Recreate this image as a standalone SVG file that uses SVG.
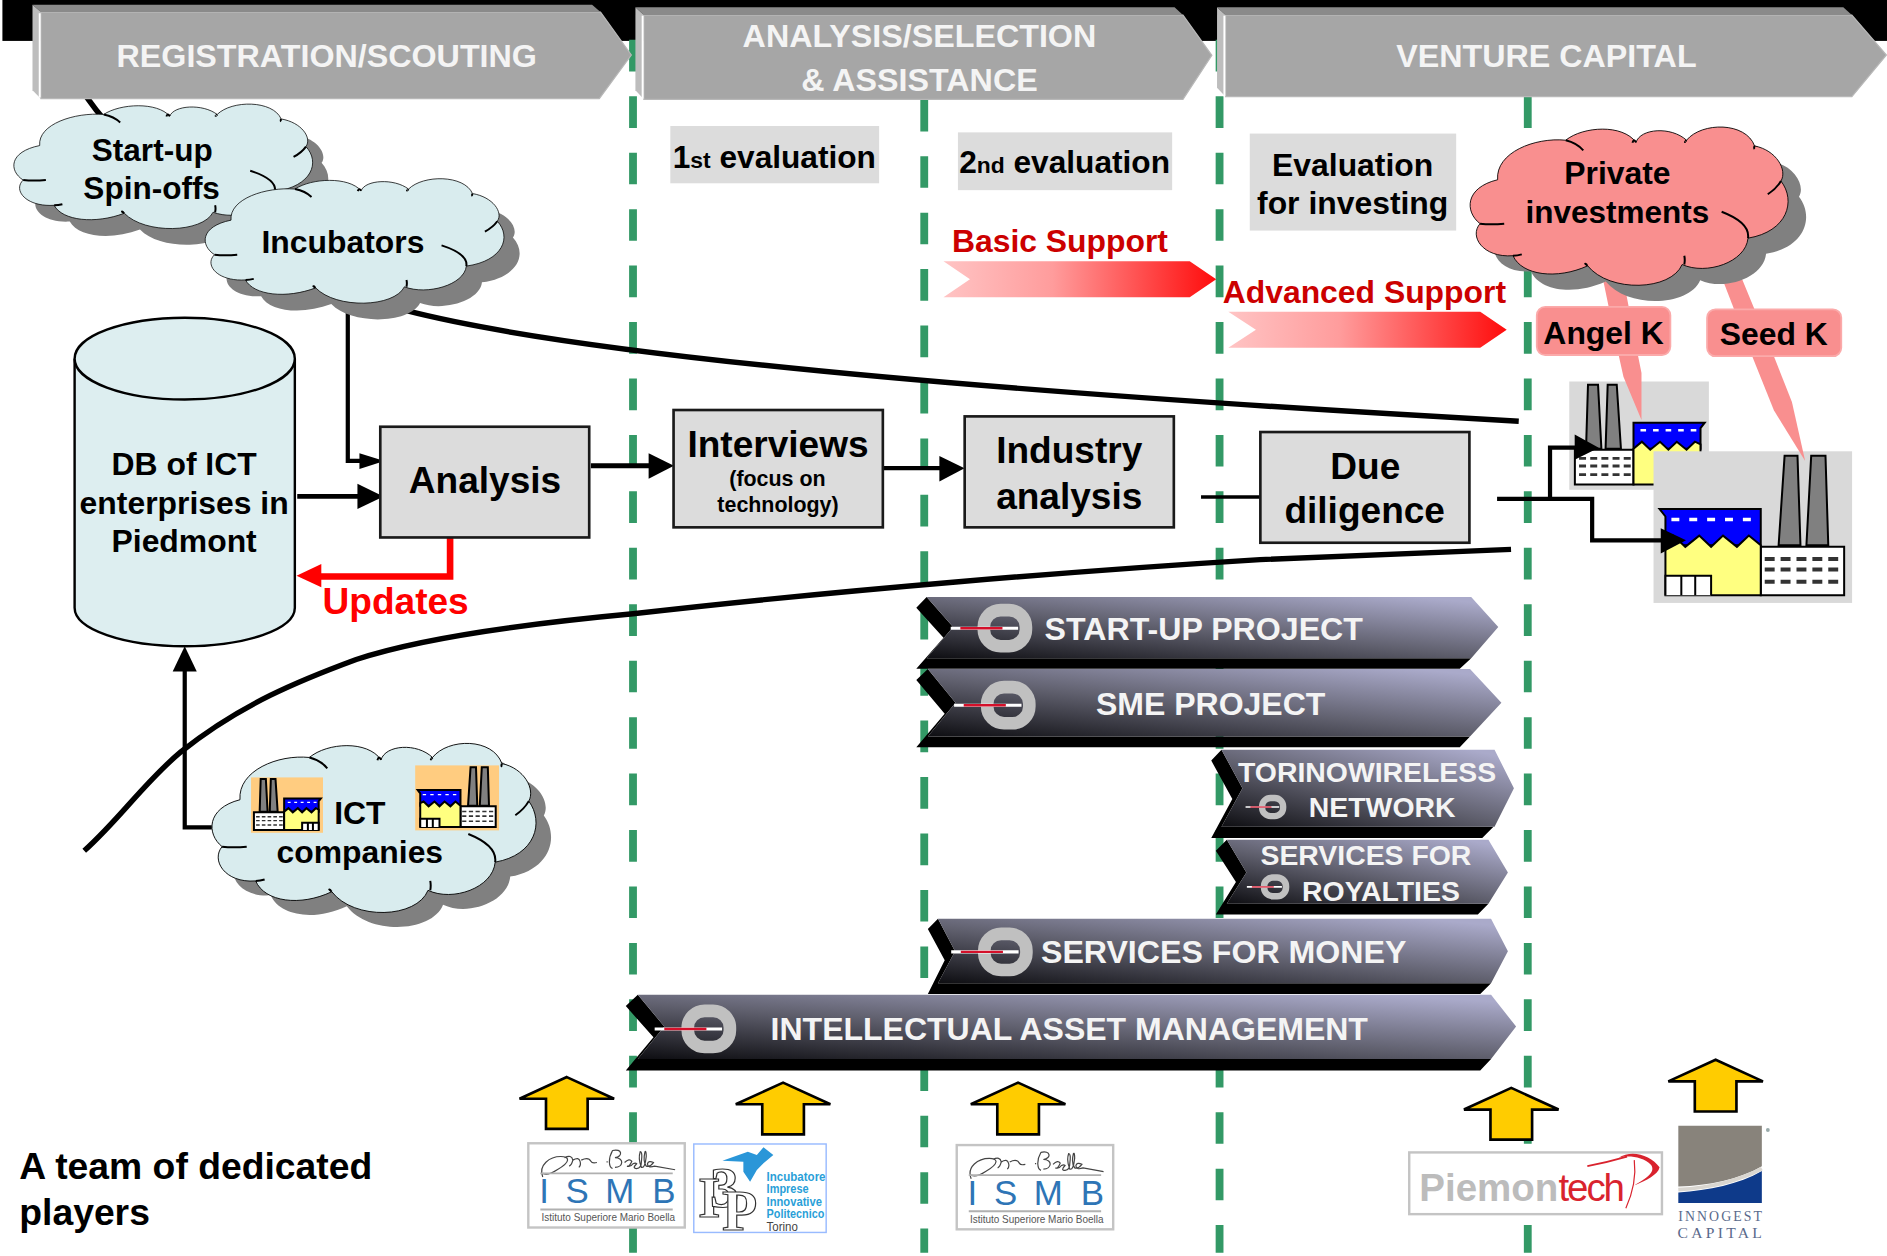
<svg xmlns="http://www.w3.org/2000/svg" width="1887" height="1256" viewBox="0 0 1887 1256">
<style>
text{font-family:"Liberation Sans",Arial,sans-serif;font-weight:700;fill:#000}
.m{text-anchor:middle}
.hd{font-size:26.800px;fill:#f4f4f4;text-anchor:middle}
.bar{font-size:26.700px;fill:#f4f4f4}
.barm{font-size:26.600px;fill:#f4f4f4;text-anchor:middle}
.bars{font-size:23.600px;fill:#f4f4f4;text-anchor:middle}
.box{fill:#dcdcdc;stroke:#1a1a1a;stroke-width:2.2}
.lbl{fill:#dcdcdc}
.big{font-size:30.800px;text-anchor:middle}
.t27{font-size:26.500px}
.face{fill:#a6a6a6;stroke:#b8b8b8;stroke-width:1}
.bev{fill:#8a8a8a}
.lb{fill:#bdbdbd}
.wl{stroke:#fff;stroke-width:1.6;fill:none}
.blk{fill:#000}
.rf{fill:url(#rib);stroke:none}
.cs{fill:#808080;stroke:none}
.c1{fill:#d9ecee}
.c2{fill:#f98f8f}
.co{stroke:#000;stroke-width:2;vector-effect:non-scaling-stroke}
.sub{fill:none;stroke:#000;stroke-width:2;vector-effect:non-scaling-stroke}
.ln{fill:none;stroke:#000}
.pk{fill:#f98f8f;stroke:none}
.ya{fill:#ffcc00;stroke:#000;stroke-width:2.2}
.dv{stroke:#339966;stroke-width:6.5;stroke-dasharray:26.3 20.6;fill:none}
.lg{fill:#fff;stroke:#c4c4c4;stroke-width:2}
.fs{stroke:#000;stroke-width:2;vector-effect:non-scaling-stroke}
.ism{font-weight:400;font-size:29px;fill:#2e75b6}
.ist{font-weight:400;font-size:8.5px;fill:#555}
.i3{font-weight:700;font-size:10.5px;fill:#2a9fd8}
.i3o{font-family:"Liberation Serif",serif;font-weight:700;fill:#fff;stroke:#333;stroke-width:1}
</style>
<defs>
<linearGradient id="rib" x1="0" y1="1" x2=".85" y2="0"><stop offset="0" stop-color="#0e0e12"/><stop offset=".5" stop-color="#60606e"/><stop offset="1" stop-color="#aaaaca"/></linearGradient>
<linearGradient id="red"><stop offset="0" stop-color="#ffc4c4"/><stop offset=".4" stop-color="#ff9c9c"/><stop offset="1" stop-color="#ff0c0c"/></linearGradient>
<path id="ya" class="ya" d="M0 0L39.3 18H17.3V43H-17.3V18H-39.3Z"/>
<path id="cloudO" transform="translate(-498 -535)" d="M565 662C560 600 650 565 720 572C760 540 850 535 880 577C890 545 960 540 995 572C1030 530 1130 530 1150 585C1200 595 1225 640 1210 665C1245 710 1225 780 1135 795C1130 850 1040 880 985 855C960 915 820 920 770 858C700 890 620 880 600 835C530 840 500 790 525 762C490 735 490 680 565 662Z"/>
<path id="cloudS" class="sub" transform="translate(-498 -535)" d="M720 572Q745 578 760 595M880 577Q875 567 872 578M995 572Q990 578 992 575M1150 585Q1148 590 1150 592M1210 665Q1200 682 1180 695M1135 795Q1140 760 1075 735M525 762Q550 765 580 762M600 835Q610 835 620 832M770 858Q760 850 768 855M990 855Q992 845 990 835"/>
<g id="factory">
<path fill="#808080" class="fs" d="M12 62L13.4 3H20.6L23 62ZM26 62L27.5 3H34L37 62Z"/>
<rect x="4" y="63" width="42" height="32" fill="#fff" class="fs"/>
<path fill="none" stroke="#333" stroke-width="2.6" d="M7 71h5m3 0h5m3 0h5m3 0h5m3 0h5M7 78h5m3 0h5m3 0h5m3 0h5m3 0h5M7 86h5m3 0h5m3 0h5m3 0h5m3 0h5"/>
<path fill="#0000ff" class="fs" d="M46 38H97L94 43V62H46Z"/>
<path fill="none" stroke="#fff" stroke-width="2.2" d="M51 45h4m5 0h4m5 0h4m5 0h4m5 0h4"/>
<path fill="#ffff80" class="fs" d="M46 95H94V58L90 55.6L84 63L77 55.6L71 63L65 55.6L58 63L52 55.6L46 62Z"/>
<path fill="#fff" class="fs" d="M71 95V82H94V95M79 82V95M86 82V95"/>
</g>
<g id="ring">
<rect x="-17.500" y="-15" width="35" height="30" rx="14" fill="none" stroke="#c0c0c0" stroke-width="10.500"/>
<path d="M-45 0H11" stroke="#fff" stroke-width="2.600"/>
<path d="M-37 0H-2" stroke="#d4102a" stroke-width="2"/>
</g>
<g id="ismb">
<rect class="lg" width="130" height="70"/>
<path fill="none" stroke="#444" stroke-width="1" d="M12 28C8 18 18 11 27 11C34 11 36 15 24 22C18 26 14 26 12 25M30 12q6-3 7 2q-1 4-3 5M37 14q5-3 6 1q1 3-1 5M44 14q6-3 8 1q1 2 5 1M65 15.500h1M70 6C66 13 67 20 70 21M70 6C78 4 79 11 72 12C80 12 79 20 72 20M80 16q4-4 6-1q-2 5-4 4q3 1 5-2q2-1 3 0q-4 4 0 4q4 0 4-6q1-8-1-8q-2 6 1 13q3 1 4-9q0-5-1-4q-2 8 1 12q3 1 6-3q-4-2-5 1q0 4 6 2L122 22"/>
<path stroke="#b0b0b0" stroke-width="1.600" d="M10 25H120M10 55H120"/>
<text class="ism" x="9" y="50">I</text><text class="ism" x="31" y="50">S</text><text class="ism" x="64" y="50">M</text><text class="ism" x="103" y="50">B</text>
<text class="ist" x="11" y="65" textLength="111" lengthAdjust="spacingAndGlyphs">Istituto Superiore Mario Boella</text>
</g>
</defs>
<g transform="scale(1.20344)">
<rect id="topband" x="2" y="0" width="1566" height="34" fill="#000"/>
<g id="dividers">
<path class="dv" d="M526 33.100V1041"/>
<path class="dv" d="M768 36V1041"/>
<path class="dv" d="M1013.400 33.100V1041"/>
<path class="dv" d="M1269.500 33.100V1041"/>
</g>
<g id="factory-a">
<rect x="1304" y="317" width="116" height="90" fill="#d9d9d9"/>
<use href="#factory" transform="translate(1304 317) scale(1.16 .9)"/>
</g>
<g id="factory-b">
<rect x="1374" y="375" width="165" height="126" fill="#d9d9d9"/>
<use href="#factory" transform="translate(1539 375) scale(-1.65 1.26)"/>
</g>
<g id="connectors">
<path class="ln" stroke-width="4.500" d="M70 78C120 150 230 230 337 258C500 300 900 330 1262 350"/>
<path class="ln" stroke-width="4.500" d="M70 707C100 680 120 650 150 625C200 585 250 565 296 548C350 530 440 518 526 510C700 490 900 474 1047 465L1255.600 456.500"/>
<path class="ln" stroke-width="3.500" d="M289 258V383H302"/><path class="blk" d="M319.400 383L298.700 376.700V389.700Z"/>
<path class="ln" stroke-width="4" d="M247 412.500H300"/><path class="blk" d="M318.700 412.500L297 402V423Z"/>
<path fill="none" stroke="#f00" stroke-width="5.500" d="M374 442V479H265"/><path fill="#f00" d="M246.400 478.500L267 468.700V488Z"/>
<path class="ln" stroke-width="4" d="M491 387H542"/><path class="blk" d="M560 387L539 376.700V397.800Z"/>
<path class="ln" stroke-width="3.500" d="M732 389H784"/><path class="blk" d="M801.500 389L780.600 379V400Z"/>
<path class="ln" stroke-width="3" d="M998 413H1047"/>
<path class="ln" stroke-width="3.500" d="M1244 414.600H1323V449H1384"/><path class="blk" d="M1401 449L1380 439V460Z"/>
<path class="ln" stroke-width="3.500" d="M1288 414.600V372H1312"/><path class="blk" d="M1328.500 372L1308.500 361V382Z"/>
<path class="ln" stroke-width="3.500" d="M176 687.500H153.500V556"/><path class="blk" d="M153.500 537L143.500 558H163.500Z"/>
</g>
<g id="head-1"><path class="blk" d="M492 4H500V34H492Z"/><path class="face" d="M34 10H499L524.600 45.700L498 82H34Z"/><path class="bev" d="M27 4H492L499 10H34Z"/><path class="lb" d="M27 4L34 10V82L27 75Z"/><path class="wl" d="M33 11V81"/><text class="hd" x="271.500" y="55.500">REGISTRATION/SCOUTING</text></g>
<g id="head-2"><path class="face" d="M535 12.500H983L1007 46L983 82.500H535Z"/><path class="bev" d="M528 6H976L983 12.500H535Z"/><path class="lb" d="M528 6L535 12.500V82.500L528 75Z"/><path class="wl" d="M534 13V82"/><text class="hd" x="764" y="39">ANALYSIS/SELECTION</text><text class="hd" x="764" y="75.500">&amp; ASSISTANCE</text></g>
<g id="head-3"><path class="face" d="M1018.400 12.500H1538.800L1567.500 45.700L1538.800 80.300H1018.400Z"/><path class="bev" d="M1011.300 6H1531.700L1538.800 12.500H1018.400Z"/><path class="lb" d="M1011.300 6L1018.400 12.500V80.300L1011.300 73Z"/><path class="wl" d="M1017.400 13V80"/><text class="hd" x="1285" y="55.500">VENTURE CAPITAL</text></g>
<g id="eval-1"><rect class="lbl" x="557" y="104.700" width="173.500" height="47.600"/><text font-size="26.300" x="559" y="140">1<tspan font-size="19">st</tspan> evaluation</text></g>
<g id="eval-2"><rect class="lbl" x="796" y="110" width="178" height="48"/><text font-size="26.300" x="797" y="143.500">2<tspan font-size="19">nd</tspan> evaluation</text></g>
<g id="eval-3"><rect class="lbl" x="1038.500" y="111" width="171.500" height="80.600"/><text class="t27 m" x="1124" y="146">Evaluation</text><text class="t27 m" x="1124" y="178">for investing</text></g>
<g id="basic-support"><text font-size="26.500" x="791" y="209.500" style="fill:#cc0000">Basic Support</text><path fill="url(#red)" d="M784 217H988.600L1010.600 232L988.600 247H784L806 232Z"/></g>
<g id="advanced-support"><text font-size="26.500" x="1016" y="251.500" style="fill:#cc0000">Advanced Support</text><path fill="url(#red)" d="M1020.700 259H1230L1252 274L1230 289H1020.700L1043.600 274Z"/></g>
<g id="angel-k"><path class="pk" d="M1332 232L1349 232L1361 295L1364 310V349L1349 313L1345 295Z"/><rect x="1277" y="255" width="111" height="40" rx="7" fill="#f98f8f" stroke="#fbaaaa" stroke-width="1.500"/><text class="m" font-size="26.500" x="1332.500" y="286">Angel K</text></g>
<g id="seed-k"><path class="pk" d="M1430.500 230L1446 228L1474 296L1489 334L1500 383L1474 341L1456 296Z"/><rect x="1418.500" y="257" width="111.500" height="39" rx="7" fill="#f98f8f" stroke="#fbaaaa" stroke-width="1.500"/><text class="m" font-size="26.500" x="1474" y="287">Seed K</text></g>
<g id="private-investments"><use href="#cloudO" class="cs" transform="translate(1235 116) scale(.365 .365)"/><use href="#cloudO" class="c2 co" transform="translate(1220 103) scale(.365 .365)"/><use href="#cloudS" transform="translate(1220 103) scale(.365 .365)"/><text class="t27 m" x="1344" y="153" font-size="26.300">Private</text><text class="m" font-size="26.200" x="1344" y="185">investments</text></g>
<g id="startup-spinoffs"><use href="#cloudO" class="cs" transform="translate(23 98) scale(.343 .287)"/><use href="#cloudO" class="c1 co" transform="translate(10 84.500) scale(.343 .287)"/><use href="#cloudS" transform="translate(10 84.500) scale(.343 .287)"/><text class="m" font-size="26.200" x="126.500" y="134">Start-up</text><text class="m" font-size="26.200" x="126" y="165.500">Spin-offs</text></g>
<g id="incubators"><use href="#cloudO" class="cs" transform="translate(182 160) scale(.343 .287)"/><use href="#cloudO" class="c1 co" transform="translate(169 146.500) scale(.343 .287)"/><use href="#cloudS" transform="translate(169 146.500) scale(.343 .287)"/><text class="t27 m" x="285" y="210">Incubators</text></g>
<g id="db"><path fill="#ddeef0" stroke="#000" stroke-width="2" d="M62 298V505C62 523 103 537 153.500 537C204 537 245 523 245 505V298"/><ellipse cx="153.500" cy="298" rx="91.500" ry="34" fill="#ddeef0" stroke="#000" stroke-width="2"/><text class="m" font-size="26.500" x="153" y="395">DB of ICT</text><text class="m" font-size="26.500" x="153" y="427">enterprises in</text><text class="m" font-size="26.500" x="153" y="459">Piedmont</text></g>
<g id="analysis"><rect class="box" x="316" y="354.600" width="173.600" height="92"/><text class="big" x="403" y="410">Analysis</text></g>
<g id="updates"><text font-size="30.800" style="fill:#f00" x="268" y="510">Updates</text></g>
<g id="interviews"><rect class="box" x="559.700" y="340.700" width="173.900" height="97.500"/><text class="big" x="646.500" y="380">Interviews</text><text class="m" font-size="17.800" x="646" y="404">(focus on</text><text class="m" font-size="17.800" x="646.500" y="425.500">technology)</text></g>
<g id="industry"><rect class="box" x="801.600" y="346" width="173.800" height="92.200"/><text class="big" x="888.500" y="385">Industry</text><text class="big" x="888.500" y="423">analysis</text></g>
<g id="due"><rect class="box" x="1047.300" y="359" width="173.700" height="92"/><text class="big" x="1134.500" y="398">Due</text><text class="big" x="1134" y="435">diligence</text></g>
<g id="ict"><use href="#cloudO" class="cs" transform="translate(187 627) scale(.372 .39)"/><use href="#cloudO" class="c1 co" transform="translate(174.500 615) scale(.372 .39)"/><use href="#cloudS" transform="translate(174.500 615) scale(.372 .39)"/>
<rect x="208.600" y="646" width="59.800" height="46" fill="#ffcc80"/><use href="#factory" transform="translate(208.600 646) scale(.598 .46)"/>
<rect x="345" y="636" width="69.700" height="54" fill="#ffcc80"/><use href="#factory" transform="translate(414.700 636) scale(-.697 .54)"/>
<text class="t27 m" x="299" y="685">ICT</text><text class="t27 m" x="299" y="717">companies</text></g>
<g id="bar-startup"><path class="blk" d="M761.400 505L770 496L792 521L770 547H1222.500L1213 555.600H761.400L784 530Z"/><path class="rf" d="M770 496H1222.500L1245 521L1222.500 547H770L792 521Z"/><use href="#ring" transform="translate(835 522)"/><text class="bar" x="868" y="532">START-UP PROJECT</text></g>
<g id="bar-sme"><path class="blk" d="M761.400 565L771 556L794 584L771 612H1221.500L1213 621H761.400L785 593Z"/><path class="rf" d="M771 556H1221.500L1247.600 584L1221.500 612H771L794 584Z"/><use href="#ring" transform="translate(837.800 586)"/><text class="barm" x="1006" y="594">SME PROJECT</text></g>
<g id="bar-torino"><path class="blk" d="M1006.500 632L1015 623L1032.400 655L1015 687H1241L1231.700 696.400H1006.500L1024 664Z"/><path class="rf" d="M1015 623H1241.900L1258 655L1241.900 687H1015L1032.400 655Z"/><use href="#ring" transform="translate(1057.500 670.600) scale(.5)"/><text class="bars" x="1136" y="650">TORINOWIRELESS</text><text class="bars" x="1148.500" y="679">NETWORK</text></g>
<g id="bar-royalties"><path class="blk" d="M1010.300 707L1019.400 697.800L1035.700 725L1019.400 751H1236.800L1228 760H1010.300L1027 733Z"/><path class="rf" d="M1019.400 697.800H1236.800L1253 725L1236.800 751H1019.400L1035.700 725Z"/><use href="#ring" transform="translate(1059.500 737) scale(.52)"/><text class="bars" x="1135" y="719">SERVICES FOR</text><text class="bars" x="1147.500" y="749">ROYALTIES</text></g>
<g id="bar-money"><path class="blk" d="M771 772L779.400 763.400L793.600 790.500L779.400 817H1239L1230 826H771L785 798Z"/><path class="rf" d="M779.400 763.400H1239L1253 790.500L1239 817H779.400L793.600 790.500Z"/><use href="#ring" transform="translate(835.400 791)"/><text class="bar" x="865" y="800">SERVICES FOR MONEY</text></g>
<g id="bar-ip"><path class="blk" d="M520 836L530 826.600L552 853L530 880H1239L1230 889.500H520L543 862Z"/><path class="rf" d="M530 826.600H1239L1259.800 853L1239 880H530L552 853Z"/><use href="#ring" transform="translate(589 855)"/><text class="barm" x="888.500" y="864">INTELLECTUAL ASSET MANAGEMENT</text></g>
<g id="support-arrows">
<use href="#ya" x="471" y="895"/><use href="#ya" x="650.700" y="899.600"/><use href="#ya" x="846" y="899.600"/><use href="#ya" x="1255.800" y="904"/><use href="#ya" x="1425.600" y="880.600"/>
</g>
<g id="team"><text font-size="31" x="16" y="980">A team of dedicated</text><text font-size="31" x="16" y="1018">players</text></g>
<g id="logo-ismb-1"><use href="#ismb" x="439" y="950"/></g>
<g id="logo-ismb-2"><use href="#ismb" x="795" y="951.500"/></g>
<g id="logo-i3p"><rect x="576.500" y="950.600" width="110" height="73.500" fill="#fff" stroke="#99bbff" stroke-width="1.200"/>
<path fill="#2a96d8" d="M634.400 953.400L642.600 959.700L634.400 966.700L628.900 972.200L623.300 982L617.700 973.600L617.700 965.300L600.300 964.500L621.400 957L628.900 959.700Z"/>
<text class="i3o" font-size="48" x="580 590 600" y="1011 1003 1022">I3P</text>
<text class="i3" x="637" y="981" textLength="49" lengthAdjust="spacingAndGlyphs">Incubatore</text><text class="i3" x="637" y="991.600" textLength="35" lengthAdjust="spacingAndGlyphs">Imprese</text><text class="i3" x="637" y="1002" textLength="46" lengthAdjust="spacingAndGlyphs">Innovative</text><text class="i3" x="637" y="1012.400" textLength="48" lengthAdjust="spacingAndGlyphs">Politecnico</text><text class="i3" x="637" y="1022.500" textLength="26" lengthAdjust="spacingAndGlyphs" style="fill:#444;font-weight:400">Torino</text></g>
<g id="logo-piemontech"><rect class="lg" x="1171" y="957.600" width="210" height="51.300"/>
<text font-size="32" x="1179.400" y="998.300" style="fill:#bcbcbc">Piemon<tspan letter-spacing="-1.700" style="fill:#d9232e;font-weight:400">tech</tspan></text>
<path fill="none" stroke="#d9232e" stroke-width="1.600" d="M1319 969C1335 966 1345 963 1352 961"/><path fill="#d9232e" d="M1345 962C1356 955 1372 960 1379 970C1378 976 1368 981 1358 985C1368 979 1376 974 1372 968C1365 961 1353 960 1345 962Z"/><path fill="none" stroke="#d9232e" stroke-width="1" d="M1358 964C1360 980 1355 995 1351 1004"/></g>
<g id="logo-innogest"><path fill="#88837b" d="M1394.600 935.500H1464V969C1445 980 1420 985 1394.600 986Z"/><path fill="#0e3a8a" d="M1394.600 991C1420 989 1445 984 1464 973V999.700H1394.600Z"/><path fill="none" stroke="#d9d6d0" stroke-width="3" d="M1394.600 988.500C1420 987 1445 981 1464 971"/><circle cx="1469" cy="939" r="1.600" fill="#9aa"/>
<text x="1394.600" y="1014.400" font-size="11.500" textLength="69.500" style="font-family:'Liberation Serif',serif;font-weight:400;fill:#5a6a8c">INNOGEST</text><text x="1394" y="1029" font-size="13" textLength="70" style="font-family:'Liberation Serif',serif;font-weight:400;fill:#5a6a8c">CAPITAL</text></g>
</g>
</svg>
